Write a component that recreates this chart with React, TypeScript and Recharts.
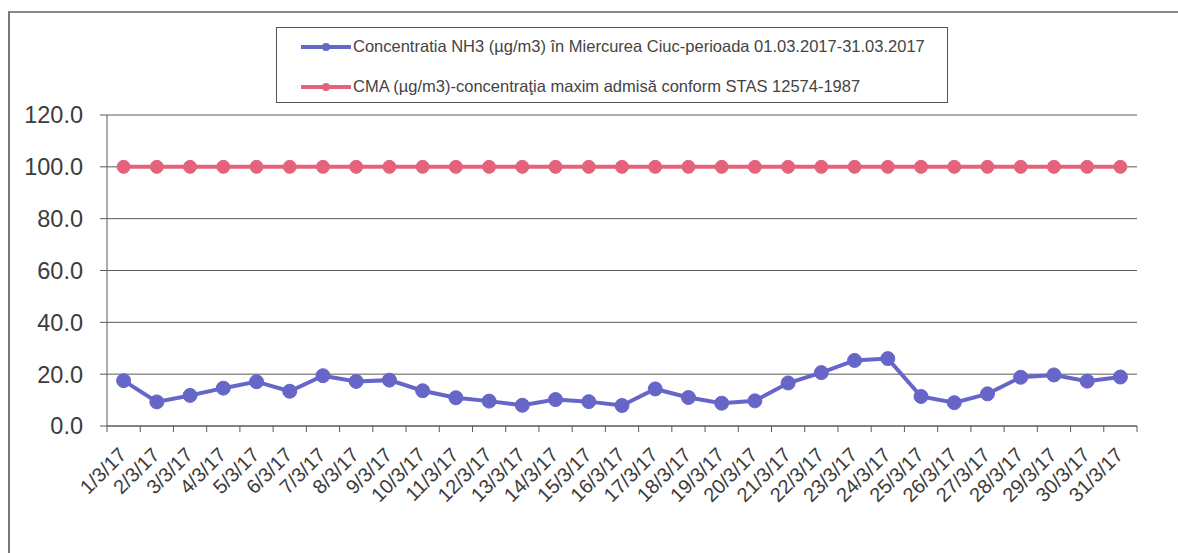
import React from "react";
import { LineChart, Line, XAxis, YAxis, CartesianGrid } from "recharts";

const categories = [
  "1/3/17", "2/3/17", "3/3/17", "4/3/17", "5/3/17", "6/3/17", "7/3/17", "8/3/17",
  "9/3/17", "10/3/17", "11/3/17", "12/3/17", "13/3/17", "14/3/17", "15/3/17", "16/3/17",
  "17/3/17", "18/3/17", "19/3/17", "20/3/17", "21/3/17", "22/3/17", "23/3/17", "24/3/17",
  "25/3/17", "26/3/17", "27/3/17", "28/3/17", "29/3/17", "30/3/17", "31/3/17",
];
const nh3 = [
  17.5, 9.3, 11.8, 14.6, 17.1, 13.4, 19.4, 17.2, 17.7, 13.6, 10.9, 9.6, 8.0, 10.2, 9.4, 7.9,
  14.3, 11.0, 8.8, 9.7, 16.6, 20.6, 25.3, 26.0, 11.4, 9.0, 12.4, 18.8, 19.7, 17.3, 18.9,
];
const cma = [
  100, 100, 100, 100, 100, 100, 100, 100, 100, 100, 100, 100, 100, 100, 100, 100,
  100, 100, 100, 100, 100, 100, 100, 100, 100, 100, 100, 100, 100, 100, 100,
];
const yTicks = [0, 20, 40, 60, 80, 100, 120];
const seriesNames = [
  "Concentratia NH3 (µg/m3) în Miercurea Ciuc-perioada 01.03.2017-31.03.2017",
  "CMA (µg/m3)-concentraţia maxim admisă conform STAS 12574-1987",
];

const BLUE = "#6666c8";
const RED = "#e4637b";
const GRID = "#5a5a5a";
const TEXT = "#3c3c3c";
const FONT = "'Liberation Sans', Arial, sans-serif";

const data = categories.map((c, i) => ({ cat: c, nh3: nh3[i], cma: cma[i] }));

const W = 1178;
const H = 553;
const M = { top: 115, right: 41, left: 0, bottom: 0 };
const Y_W = 107;
const X_H = 127;
const HALF_BAND = (W - M.right - Y_W) / categories.length / 2;

const XTick = (props: any) => {
  const { x, y, payload, index } = props;
  const axisY = y - 8;
  const last = index === categories.length - 1;
  const ax = x + 4;
  const ay = y + 22;
  return (
    <g>
      <line x1={x - HALF_BAND} x2={x - HALF_BAND} y1={axisY} y2={axisY + 6} stroke={GRID} />
      {last && <line x1={x + HALF_BAND} x2={x + HALF_BAND} y1={axisY} y2={axisY + 6} stroke={GRID} />}
      <text
        x={ax}
        y={ay}
        textAnchor="end"
        transform={`rotate(-45 ${ax} ${ay})`}
        fontSize={20}
        fill={TEXT}
        fontFamily={FONT}
      >
        {payload.value}
      </text>
    </g>
  );
};

const LegendIcon = ({ color }: { color: string }) => (
  <svg width={50} height={12} style={{ display: "block" }}>
    <line x1={0} x2={50} y1={6} y2={6} stroke={color} strokeWidth={4} />
    <circle cx={25} cy={6} r={4} fill={color} />
  </svg>
);

export default function App() {
  return (
    <div style={{ position: "absolute", left: 0, top: 0, width: W, height: H, background: "#fff", fontFamily: FONT }}>
      <div
        style={{
          position: "absolute",
          left: 8,
          top: 11,
          width: W,
          height: H,
          borderTop: "2px solid #888",
          borderLeft: "2px solid #777",
        }}
      />
      <LineChart width={W} height={H} data={data} margin={M}>
        <CartesianGrid vertical={false} stroke={GRID} strokeWidth={1} />
        <XAxis
          dataKey="cat"
          height={X_H}
          interval={0}
          padding={{ left: HALF_BAND, right: HALF_BAND }}
          tickLine={false}
          axisLine={{ stroke: GRID }}
          tick={<XTick />}
        />
        <YAxis
          width={Y_W}
          domain={[0, 120]}
          ticks={yTicks}
          interval={0}
          tickFormatter={(v: number) => v.toFixed(1)}
          tickSize={7}
          tickMargin={17}
          axisLine={{ stroke: GRID }}
          tickLine={{ stroke: GRID }}
          tick={{ fontSize: 23.5, fill: TEXT, fontFamily: FONT }}
        />
        <YAxis
          yAxisId="right"
          orientation="right"
          width={0}
          domain={[0, 120]}
          tick={false}
          tickLine={false}
          axisLine={{ stroke: GRID }}
        />
        <Line
          dataKey="cma"
          stroke={RED}
          strokeWidth={4}
          dot={{ r: 6.5, fill: RED, stroke: RED, strokeWidth: 1 }}
          isAnimationActive={false}
        />
        <Line
          dataKey="nh3"
          stroke={BLUE}
          strokeWidth={4}
          dot={{ r: 7, fill: BLUE, stroke: BLUE, strokeWidth: 1 }}
          isAnimationActive={false}
        />
      </LineChart>
      <div
        style={{
          position: "absolute",
          left: 276,
          top: 27,
          width: 672,
          height: 76,
          border: "1.5px solid #555",
          boxSizing: "border-box",
          background: "#fff",
        }}
      >
        {[BLUE, RED].map((c, i) => (
          <div
            key={i}
            style={{
              position: "absolute",
              left: 24,
              top: i === 0 ? 9 : 49,
              display: "flex",
              alignItems: "center",
              whiteSpace: "nowrap",
              fontSize: 16.5,
              color: "#444",
              fontFamily: FONT,
            }}
          >
            <LegendIcon color={c} />
            <span style={{ marginLeft: 2 }}>{seriesNames[i]}</span>
          </div>
        ))}
      </div>
    </div>
  );
}
